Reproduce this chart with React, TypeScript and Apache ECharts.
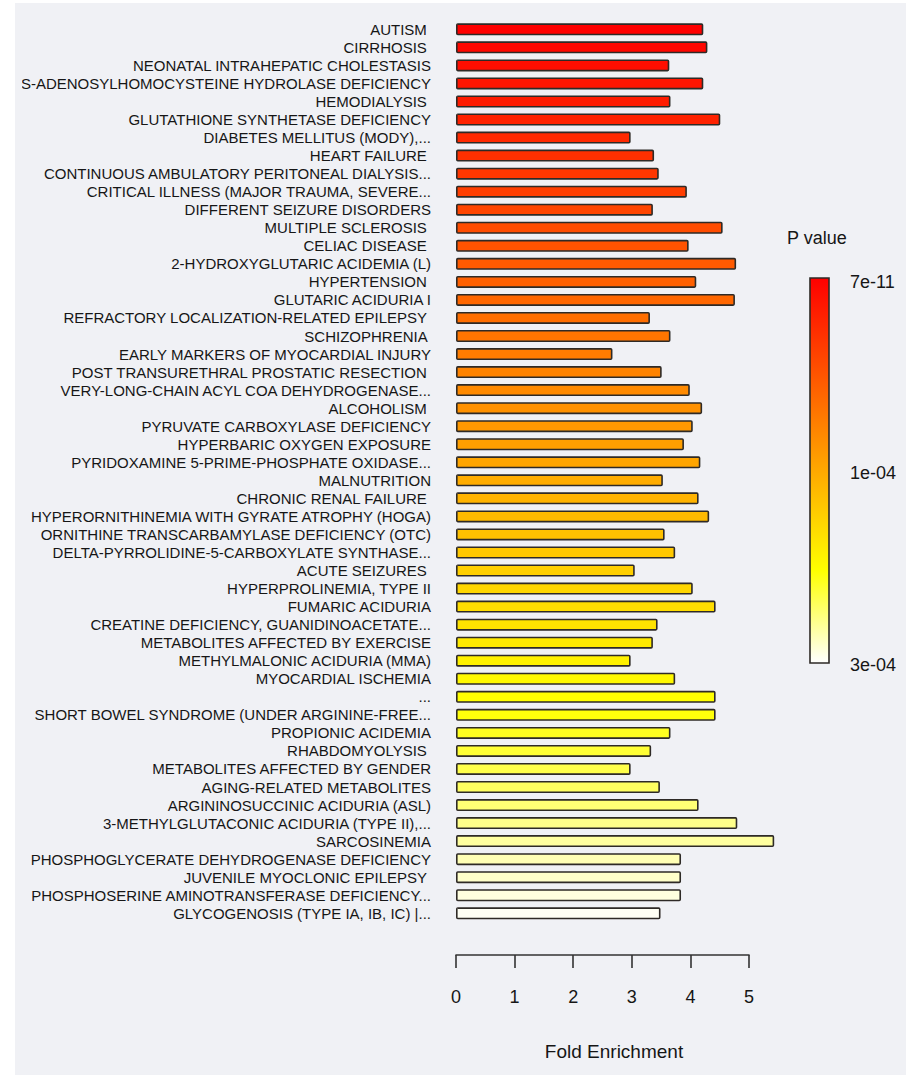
import React, { useEffect, useRef } from "react";
import * as echarts from "echarts";

// Enriched metabolite sets, top to bottom
const categories: string[] = [
  "AUTISM ",
  "CIRRHOSIS ",
  "NEONATAL INTRAHEPATIC CHOLESTASIS",
  "S-ADENOSYLHOMOCYSTEINE HYDROLASE DEFICIENCY",
  "HEMODIALYSIS ",
  "GLUTATHIONE SYNTHETASE DEFICIENCY",
  "DIABETES MELLITUS (MODY),...",
  "HEART FAILURE ",
  "CONTINUOUS AMBULATORY PERITONEAL DIALYSIS...",
  "CRITICAL ILLNESS (MAJOR TRAUMA, SEVERE...",
  "DIFFERENT SEIZURE DISORDERS",
  "MULTIPLE SCLEROSIS ",
  "CELIAC DISEASE ",
  "2-HYDROXYGLUTARIC ACIDEMIA (L)",
  "HYPERTENSION ",
  "GLUTARIC ACIDURIA I",
  "REFRACTORY LOCALIZATION-RELATED EPILEPSY ",
  "SCHIZOPHRENIA ",
  "EARLY MARKERS OF MYOCARDIAL INJURY",
  "POST TRANSURETHRAL PROSTATIC RESECTION ",
  "VERY-LONG-CHAIN ACYL COA DEHYDROGENASE...",
  "ALCOHOLISM ",
  "PYRUVATE CARBOXYLASE DEFICIENCY",
  "HYPERBARIC OXYGEN EXPOSURE",
  "PYRIDOXAMINE 5-PRIME-PHOSPHATE OXIDASE...",
  "MALNUTRITION",
  "CHRONIC RENAL FAILURE ",
  "HYPERORNITHINEMIA WITH GYRATE ATROPHY (HOGA)",
  "ORNITHINE TRANSCARBAMYLASE DEFICIENCY (OTC)",
  "DELTA-PYRROLIDINE-5-CARBOXYLATE SYNTHASE...",
  "ACUTE SEIZURES ",
  "HYPERPROLINEMIA, TYPE II",
  "FUMARIC ACIDURIA",
  "CREATINE DEFICIENCY, GUANIDINOACETATE...",
  "METABOLITES AFFECTED BY EXERCISE",
  "METHYLMALONIC ACIDURIA (MMA)",
  "MYOCARDIAL ISCHEMIA",
  "...",
  "SHORT BOWEL SYNDROME (UNDER ARGININE-FREE...",
  "PROPIONIC ACIDEMIA",
  "RHABDOMYOLYSIS ",
  "METABOLITES AFFECTED BY GENDER",
  "AGING-RELATED METABOLITES",
  "ARGININOSUCCINIC ACIDURIA (ASL)",
  "3-METHYLGLUTACONIC ACIDURIA (TYPE II),...",
  "SARCOSINEMIA",
  "PHOSPHOGLYCERATE DEHYDROGENASE DEFICIENCY",
  "JUVENILE MYOCLONIC EPILEPSY ",
  "PHOSPHOSERINE AMINOTRANSFERASE DEFICIENCY...",
  "GLYCOGENOSIS (TYPE IA, IB, IC) |...",
];

// Fold enrichment per set
const foldEnrichment: number[] = [
  4.22, 4.29, 3.64, 4.22, 3.66, 4.51, 2.98, 3.38, 3.46, 3.94,
  3.36, 4.55, 3.97, 4.78, 4.1, 4.76, 3.31, 3.66, 2.67, 3.51,
  3.99, 4.2, 4.04, 3.89, 4.17, 3.53, 4.14, 4.32, 3.56, 3.74,
  3.05, 4.04, 4.43, 3.44, 3.36, 2.98, 3.74, 4.43, 4.43, 3.66,
  3.33, 2.98, 3.48, 4.14, 4.8, 5.43, 3.84, 3.84, 3.84, 3.49,
];

const xTicks: number[] = [0, 1, 2, 3, 4, 5];
const pValueLabels: string[] = ["7e-11", "1e-04", "3e-04"];

const FONT = "'Liberation Sans', Arial, sans-serif";
const INK = "#161616";

// Heat palette: red -> yellow over the first three quarters, then yellow -> white
function heatColors(n: number): string[] {
  const j = Math.floor(n / 4);
  const i = n - j;
  const out: string[] = [];
  const hsv = (h: number, s: number, v: number) => {
    const f = (k: number) => {
      const kk = (k + h * 6) % 6;
      return v - v * s * Math.max(0, Math.min(kk, 4 - kk, 1));
    };
    const to = (x: number) => Math.round(x * 255);
    return `rgb(${to(f(5))},${to(f(3))},${to(f(1))})`;
  };
  for (let k = 0; k < i; k++) out.push(hsv((k / (i - 1)) * (1 / 6), 1, 1));
  for (let k = 0; k < j; k++) {
    const s0 = 1 - 1 / (2 * j);
    const s1 = 1 / (2 * j);
    const s = j > 1 ? s0 + ((s1 - s0) * k) / (j - 1) : s0;
    out.push(hsv(1 / 6, s, 1));
  }
  return out;
}

export default function App() {
  const ref = useRef<HTMLDivElement>(null);

  useEffect(() => {
    if (!ref.current) return;
    const chart = echarts.init(ref.current, undefined, { renderer: "svg" });
    const colors = heatColors(categories.length);

    const option: any = {
      animation: false,
      backgroundColor: "transparent",
      grid: [
        {
          left: 434,
          top: 17.3,
          width: 351.6,
          height: 902,
          containLabel: false,
          outerBoundsMode: "none",
        },
        {
          left: 434,
          top: 951,
          width: 293,
          height: 1,
          containLabel: false,
          outerBoundsMode: "none",
        },
      ],
      xAxis: [
        {
          type: "value",
          gridIndex: 0,
          min: 0,
          max: 6,
          show: false,
        },
        {
          type: "value",
          gridIndex: 1,
          min: xTicks[0],
          max: xTicks[xTicks.length - 1],
          interval: 1,
          position: "bottom",
          axisLine: { show: true, lineStyle: { color: "#333", width: 1.6 } },
          axisTick: { show: true, length: 13, lineStyle: { color: "#333", width: 1.6 } },
          splitLine: { show: false },
          axisLabel: {
            margin: 33,
            fontFamily: FONT,
            fontSize: 18,
            color: INK,
            showMinLabel: true,
            showMaxLabel: true,
          },
        },
      ],
      yAxis: [
        {
          type: "category",
          gridIndex: 0,
          data: categories,
          inverse: true,
          axisLine: { show: false },
          axisTick: { show: false },
          splitLine: { show: false },
          axisLabel: {
            margin: 25,
            interval: 0,
            fontFamily: FONT,
            fontSize: 15,
            color: INK,
          },
        },
        {
          type: "value",
          gridIndex: 1,
          show: false,
        },
      ],
      series: [
        {
          type: "bar",
          xAxisIndex: 0,
          yAxisIndex: 0,
          barWidth: 12,
          data: foldEnrichment.map((v, idx) => ({
            value: v,
            itemStyle: {
              color: colors[idx],
              borderColor: "#2e2a26",
              borderWidth: 1.6,
              borderRadius: 1,
            },
          })),
        },
      ],
      graphic: [
        {
          type: "text",
          left: 765,
          top: 226,
          style: { text: "P value", font: `18px ${FONT}`, fill: INK },
        },
        {
          type: "rect",
          shape: { x: 788, y: 275, width: 19, height: 385 },
          style: {
            fill: new echarts.graphic.LinearGradient(0, 0, 0, 1, [
              { offset: 0, color: "#ff0000" },
              { offset: 0.38, color: "#ff8000" },
              { offset: 0.76, color: "#ffff00" },
              { offset: 1, color: "#ffffff" },
            ]),
            stroke: "#2e2a26",
            lineWidth: 1.6,
          },
        },
        ...pValueLabels.map((t, idx) => ({
          type: "text",
          x: 828,
          y: [279, 470, 662][idx],
          style: {
            text: t,
            font: `18px ${FONT}`,
            fill: INK,
            verticalAlign: "middle",
            align: "left",
          },
        })),
        {
          type: "text",
          x: 592,
          y: 1048,
          style: {
            text: "Fold Enrichment",
            font: `19px ${FONT}`,
            fill: INK,
            align: "center",
            verticalAlign: "middle",
          },
        },
      ],
    };

    chart.setOption(option);
    return () => chart.dispose();
  }, []);

  return (
    <div
      style={{
        position: "fixed",
        left: 0,
        top: 0,
        width: 920,
        height: 1075,
        background: "#ffffff",
      }}
    >
      <div
        style={{
          position: "absolute",
          left: 15,
          top: 3,
          width: 891,
          height: 1072,
          background: "#f0f1f5",
        }}
      >
        <div
          ref={ref}
          style={{ position: "absolute", left: 7, top: 0, width: 884, height: 1072 }}
        />
      </div>
    </div>
  );
}
